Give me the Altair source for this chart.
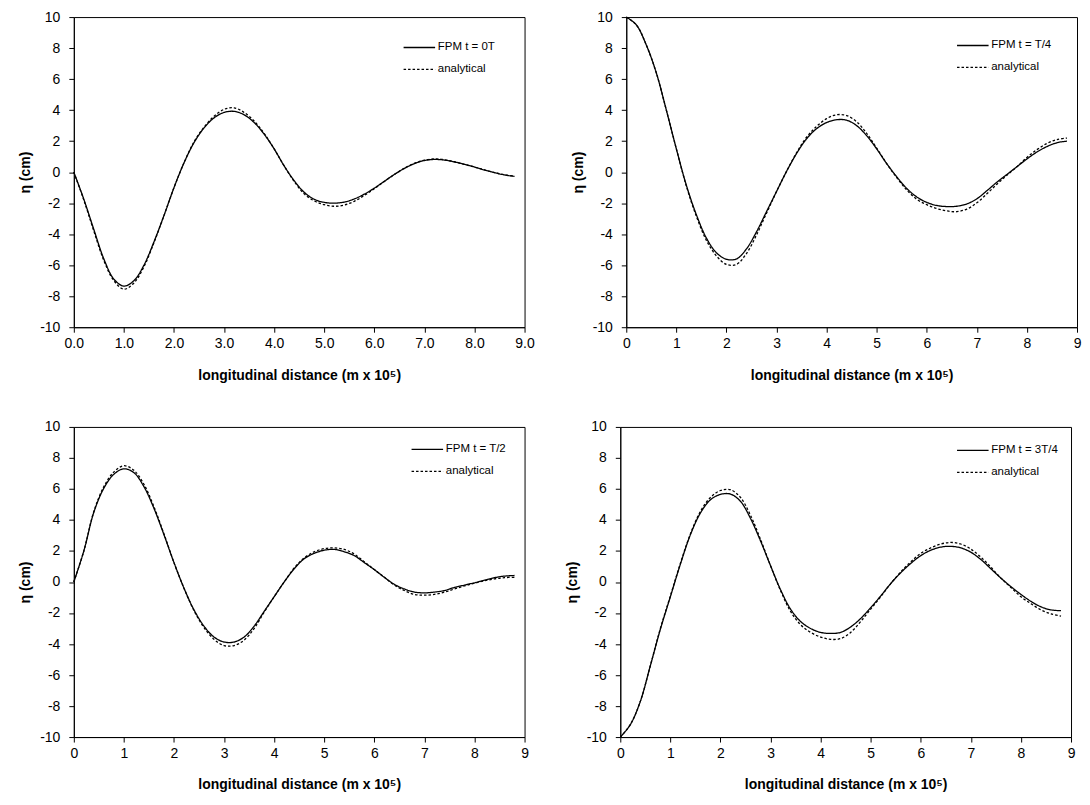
import altair as alt
import pandas as pd

X = [0.0, 0.2, 0.4, 0.6, 0.8, 1.0, 1.2, 1.4, 1.6, 1.8, 2.0, 2.2, 2.4, 2.6, 2.8,
     3.0, 3.2, 3.4, 3.6, 3.8, 4.0, 4.2, 4.4, 4.6, 4.8, 5.0, 5.2, 5.4, 5.6, 5.8,
     6.0, 6.2, 6.4, 6.6, 6.8, 7.0, 7.2, 7.4, 7.6, 7.8, 8.0, 8.2, 8.4, 8.6, 8.8]

FPM_0T = [0.0, -1.75, -3.7, -5.6, -6.9, -7.35, -7.0, -6.0, -4.5, -2.8, -1.0, 0.6, 1.9, 2.85, 3.5,
          3.85, 3.92, 3.7, 3.2, 2.45, 1.5, 0.4, -0.55, -1.3, -1.75, -1.95, -2.0, -1.93, -1.73, -1.42,
          -1.03, -0.59, -0.15, 0.24, 0.55, 0.75, 0.82, 0.78, 0.66, 0.5, 0.33, 0.14, -0.03, -0.18, -0.27]
ANA_0T = [0.0, -1.8, -3.8, -5.7, -7.0, -7.55, -7.15, -6.1, -4.55, -2.8, -1.0, 0.6, 1.95, 2.9, 3.6,
          4.05, 4.15, 3.85, 3.3, 2.5, 1.5, 0.4, -0.6, -1.4, -1.85, -2.1, -2.2, -2.12, -1.88, -1.5,
          -1.07, -0.6, -0.15, 0.25, 0.57, 0.77, 0.85, 0.8, 0.67, 0.5, 0.33, 0.14, -0.03, -0.17, -0.25]

FPM_T4 = [10.0, 9.5, 8.2, 6.4, 4.0, 1.5, -0.85, -2.75, -4.25, -5.2, -5.62, -5.6, -4.95, -3.85, -2.55,
          -1.25, 0.05, 1.2, 2.15, 2.8, 3.2, 3.38, 3.35, 3.0, 2.35, 1.5, 0.55, -0.3, -1.05, -1.6,
          -1.95, -2.15, -2.22, -2.2, -2.05, -1.72, -1.2, -0.65, -0.15, 0.35, 0.85, 1.3, 1.65, 1.9, 2.0]
ANA_T4 = [10.0, 9.5, 8.2, 6.4, 4.0, 1.5, -0.9, -2.85, -4.4, -5.4, -5.95, -5.95, -5.25, -4.05, -2.65,
          -1.25, 0.05, 1.25, 2.25, 2.95, 3.45, 3.7, 3.65, 3.25, 2.5, 1.55, 0.55, -0.35, -1.15, -1.75,
          -2.1, -2.35, -2.5, -2.55, -2.38, -1.98, -1.4, -0.78, -0.2, 0.35, 0.95, 1.45, 1.85, 2.1, 2.2]

FPM_T2 = [0.0, 2.0, 4.5, 6.05, 6.95, 7.3, 7.05, 6.15, 4.75, 3.05, 1.25, -0.4, -1.8, -2.85, -3.55,
          -3.87, -3.87, -3.55, -2.85, -1.9, -0.95, 0.0, 0.85, 1.5, 1.85, 2.05, 2.1, 1.95, 1.7, 1.25,
          0.8, 0.3, -0.15, -0.45, -0.65, -0.7, -0.65, -0.55, -0.35, -0.2, -0.05, 0.12, 0.28, 0.38, 0.42]
ANA_T2 = [0.0, 2.0, 4.55, 6.15, 7.1, 7.5, 7.2, 6.3, 4.85, 3.1, 1.25, -0.4, -1.85, -2.95, -3.7,
          -4.1, -4.1, -3.75, -3.0, -1.95, -0.95, 0.0, 0.9, 1.55, 1.95, 2.15, 2.2, 2.1, 1.8, 1.3,
          0.8, 0.3, -0.2, -0.55, -0.8, -0.85, -0.8, -0.65, -0.45, -0.25, -0.08, 0.08, 0.2, 0.28, 0.3]

FPM_3T4 = [-10.0, -9.2, -7.7, -5.4, -3.05, -0.95, 1.15, 3.05, 4.45, 5.3, 5.65, 5.67, 5.2, 4.1, 2.65,
           1.05, -0.5, -1.75, -2.55, -3.0, -3.25, -3.32, -3.25, -2.9, -2.35, -1.65, -0.9, -0.1, 0.6, 1.2,
           1.7, 2.05, 2.25, 2.3, 2.2, 1.92, 1.45, 0.85, 0.25, -0.3, -0.8, -1.25, -1.6, -1.8, -1.85]
ANA_3T4 = [-10.0, -9.2, -7.7, -5.4, -3.0, -0.9, 1.2, 3.1, 4.55, 5.45, 5.9, 5.95, 5.45, 4.3, 2.75,
           1.05, -0.55, -1.9, -2.75, -3.25, -3.55, -3.7, -3.65, -3.25, -2.55, -1.75, -0.95, -0.1, 0.65, 1.3,
           1.85, 2.2, 2.45, 2.55, 2.45, 2.12, 1.6, 0.95, 0.25, -0.35, -0.95, -1.4, -1.8, -2.05, -2.2]

LABELS = ["FPM t = 0T", "FPM t = T/4", "FPM t = T/2", "FPM t = 3T/4"]
SERIES = [(FPM_0T, ANA_0T), (FPM_T4, ANA_T4), (FPM_T2, ANA_T2), (FPM_3T4, ANA_3T4)]
X_FORMATS = [".1f", "d", "d", "d"]
LEGEND_POS = [(330, 14), (331, 12), (338, 6), (337, 7)]

X_TICKS = [0, 1, 2, 3, 4, 5, 6, 7, 8, 9]
Y_TICKS = [-10, -8, -6, -4, -2, 0, 2, 4, 6, 8, 10]

FONT = "Liberation Sans"
W, H = 452, 311


def panel(i):
    fpm, ana = SERIES[i]
    lab = LABELS[i]
    df = pd.DataFrame({
        "x": X + X,
        "eta": fpm + ana,
        "series": [lab] * len(X) + ["analytical"] * len(X),
    })
    lx, ly = LEGEND_POS[i]
    return alt.Chart(df).mark_line(interpolate="catmull-rom", color="black", strokeWidth=1.3).encode(
        x=alt.X("x:Q", scale=alt.Scale(domain=[0, 9], nice=False, zero=False),
                axis=alt.Axis(values=X_TICKS, format=X_FORMATS[i],
                              title="longitudinal distance (m x 10⁵)")),
        y=alt.Y("eta:Q", scale=alt.Scale(domain=[-10, 10], nice=False),
                axis=alt.Axis(values=Y_TICKS, title="η (cm)",
                              labelExpr="replace(datum.label, '−', '-')")),
        strokeDash=alt.StrokeDash(
            "series:N",
            scale=alt.Scale(domain=[lab, "analytical"], range=[[1, 0], [2.5, 2]]),
            legend=alt.Legend(title=None, orient="none", legendX=lx, legendY=ly,
                              symbolType="stroke", symbolSize=1000, symbolStrokeWidth=1.3,
                              symbolStrokeColor="black", labelFontSize=11.5, labelFont=FONT,
                              labelColor="black", rowPadding=-12, labelOffset=2),
        ),
        order=alt.Order("x:Q"),
    ).properties(width=W, height=H)


top = alt.hconcat(panel(0), panel(1), spacing=35).resolve_scale(strokeDash="independent")
bottom = alt.hconcat(panel(2), panel(3), spacing=35).resolve_scale(strokeDash="independent")

chart = alt.vconcat(top, bottom, spacing=36).resolve_scale(
    strokeDash="independent"
).properties(
    padding={"left": 10, "top": 0, "right": 0, "bottom": 0}
).configure_view(
    stroke="black", strokeWidth=1
).configure_axis(
    grid=False,
    domainColor="black",
    tickColor="black",
    tickSize=5,
    labelFont=FONT,
    labelFontSize=14,
    labelColor="black",
    titleFont=FONT,
    titleFontSize=14,
    titleFontWeight="bold",
    titleColor="black",
    labelPadding=4,
).configure_axisY(
    labelPadding=9, titlePadding=7
).configure_axisX(
    titlePadding=18, labelFlush=False
)

chart.save("out.html", embed_options={"renderer": "svg", "actions": False})
